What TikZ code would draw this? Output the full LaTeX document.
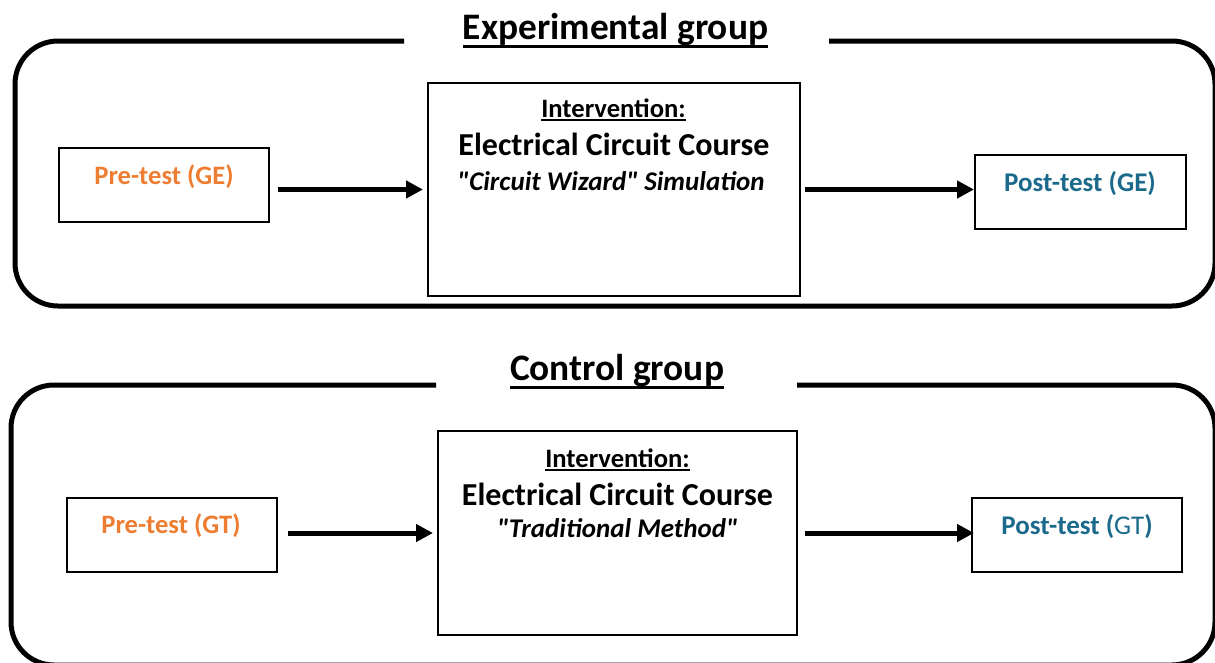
\documentclass[tikz,border=0pt]{standalone}
\usepackage{fontspec}
\setmainfont{Carlito}[Ligatures=TeXOff]
\usetikzlibrary{arrows.meta}
\definecolor{orng}{HTML}{ED7D31}
\definecolor{blu}{HTML}{1B6A8C}
\newcommand\ulx[3]{\setbox0\hbox{#3}\rlap{\rule[-#1]{\wd0}{#2}}\box0}
\begin{document}
\begin{tikzpicture}[x=1pt,y=-1pt,
  frame/.style={line width=5pt, rounded corners=43pt},
  box/.style={draw, line width=2pt, inner sep=0pt},
  arr/.style={line width=5pt, -{Triangle[length=17pt,width=17pt]}},
  txt/.style={anchor=base, inner sep=0pt, font=\bfseries}]
\useasboundingbox (0,0) rectangle (1215,662);
% frames
\draw[frame] (404,41) -- (15,41) -- (15,306) -- (1215,306) -- (1215,41) -- (829,41);
\draw[frame] (436,385) -- (11,385) -- (11,665) -- (1215,665) -- (1215,385) -- (797,385);
% titles
\node[txt, font=\bfseries\fontsize{37.4}{40}\selectfont] (tE) at (615.5,39) {\ulx{8.5pt}{3pt}{Experimental group}};
\node[txt, font=\bfseries\fontsize{37.4}{40}\selectfont] (tC) at (617,380) {\ulx{8.5pt}{3pt}{Control group}};
% boxes upper
\node[box, minimum width=210pt, minimum height=74pt] (preE) at (164,185) {};
\node[box, minimum width=372pt, minimum height=213pt] (intE) at (614,189.5) {};
\node[box, minimum width=211pt, minimum height=74pt] (postE) at (1080.5,192) {};
% boxes lower
\node[box, minimum width=210pt, minimum height=74pt] (preC) at (172,535) {};
\node[box, minimum width=359pt, minimum height=204pt] (intC) at (617.5,533) {};
\node[box, minimum width=210pt, minimum height=74pt] (postC) at (1077,535) {};
% texts upper
\node[txt, text=orng, font=\bfseries\fontsize{26.6}{30}\selectfont] (preEt) at (164,184) {Pre-test (GE)};
\node[txt, text=blu, font=\bfseries\fontsize{27}{30}\selectfont] (postEt) at (1080,191) {Post-test (GE)};
\node[txt, font=\bfseries\fontsize{26.6}{30}\selectfont] (intE1) at (613.5,117) {\ulx{4pt}{2pt}{Intervention:}};
\node[txt, font=\bfseries\fontsize{32}{36}\selectfont] (intE2) at (614,155) {Electrical Circuit Course};
\node[txt, font=\bfseries\itshape\fontsize{27}{30}\selectfont] (intE3) at (611,190) {"Circuit Wizard" Simulation};
% texts lower
\node[txt, text=orng, font=\bfseries\fontsize{26.6}{30}\selectfont] (preCt) at (171,533) {Pre-test (GT)};
\node[txt, text=blu, font=\fontsize{27}{30}\selectfont] (postCt) at (1077,534) {\textbf{Post-test (}GT\textbf{)}};
\node[txt, font=\bfseries\fontsize{26.6}{30}\selectfont] (intC1) at (617.5,467) {\ulx{4pt}{2pt}{Intervention:}};
\node[txt, font=\bfseries\fontsize{32}{36}\selectfont] (intC2) at (617.5,505) {Electrical Circuit Course};
\node[txt, font=\bfseries\itshape\fontsize{27}{30}\selectfont] (intC3) at (617.5,537) {"Traditional Method"};
% arrows
\draw[arr] ([xshift=8pt]preE.east |- intE.west) -- ([xshift=-4pt]intE.west);
\draw[arr] ([xshift=4pt]intE.east) -- (postE.west |- intE.east);
\draw[arr] ([xshift=10pt,yshift=2pt]preC.east) -- ([xshift=-4pt,yshift=2pt]intC.west |- preC.east);
\draw[arr] ([xshift=7pt,yshift=2pt]intC.east |- postC.west) -- ([xshift=3pt,yshift=2pt]postC.west);
\end{tikzpicture}
\end{document}
